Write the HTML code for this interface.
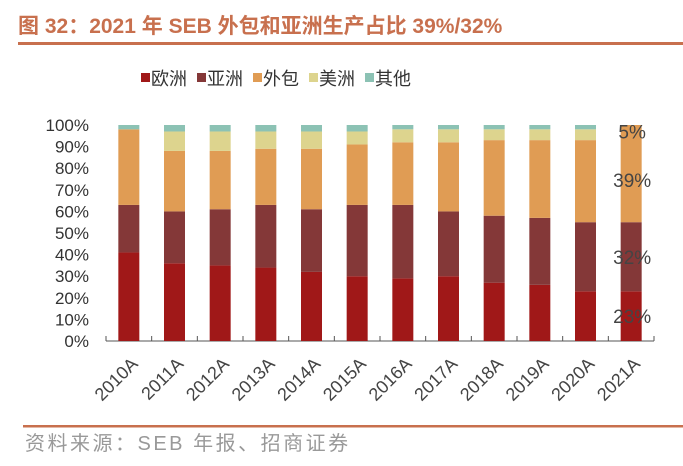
<!DOCTYPE html>
<html><head><meta charset="utf-8"><style>
body{margin:0;width:683px;height:461px;background:#fff;overflow:hidden;font-family:"Liberation Sans","Noto Sans CJK SC",sans-serif}
</style></head><body>
<svg width="683" height="461" xmlns="http://www.w3.org/2000/svg">
<text x="18" y="33" font-size="21" font-weight="bold" fill="#c8704e" font-family="Liberation Sans, Noto Sans CJK SC, sans-serif">图 32：2021 年 SEB 外包和亚洲生产占比 39%/32%</text>
<rect x="18" y="42" width="665" height="3" fill="#c8704e"/>
<g id="legend"></g>
<g id="axes"></g><g id="bars"></g>
<rect x="23" y="425" width="660" height="2.5" fill="#c8704e"/>
<text x="25" y="450" font-size="20" letter-spacing="2.5" fill="#999" font-family="Liberation Sans, Noto Sans CJK SC, sans-serif">资料来源：SEB 年报、招商证券</text>
</svg>
<script>
const categories=["2010A","2011A","2012A","2013A","2014A","2015A","2016A","2017A","2018A","2019A","2020A","2021A"];
const seriesNames=["欧洲","亚洲","外包","美洲","其他"];
const europe=[41,36,35,34,32,30,29,30,27,26,23,23];
const asia=[22,24,26,29,29,33,34,30,31,31,32,32];
const outsource=[35,28,27,26,28,28,29,32,35,36,38,45];
const america=[0,9,9,8,8,6,6,6,5,5,5,0];
const other=[2,3,3,3,3,3,2,2,2,2,2,0];
const yTicks=[0,10,20,30,40,50,60,70,80,90,100];
const labels2021=["23%","32%","39%","5%"];
const colors=["#a01818","#843838","#e09c54","#ddd48e","#8cc2b4"];
const NS="http://www.w3.org/2000/svg";
const x0=106,x1=654,y0=341,y1=125;
const step=(x1-x0)/categories.length,bw=21;
const yS=v=>y0-(y0-y1)*v/100;
const xC=i=>x0+step*(i+0.5);
function mk(t,a,p){const e=document.createElementNS(NS,t);for(const k in a)e.setAttribute(k,a[k]);p.appendChild(e);return e;}
const axes=document.getElementById('axes'),bars=document.getElementById('bars'),leg=document.getElementById('legend');
const F="Liberation Sans, Noto Sans CJK SC, sans-serif";
yTicks.forEach(v=>{const t=mk('text',{x:89,y:yS(v)+6,'text-anchor':'end','font-size':17,fill:'#333','font-family':F},axes);t.textContent=v+'%';

});
const ax=mk('line',{x1:x0,x2:x1,y1:y0,y2:y0,stroke:'#777','stroke-width':1.2},axes);


for(let i=0;i<=categories.length;i++){const tk=mk('line',{x1:x0+step*i,x2:x0+step*i,y1:y0-5,y2:y0,stroke:'#555'},axes);

}
const series=[europe,asia,outsource,america,other];
categories.forEach((c,i)=>{let acc=0;
series.forEach((s,k)=>{const v=s[i];if(v<=0)return;const r=mk('rect',{x:xC(i)-bw/2,y:yS(acc+v),width:bw,height:yS(acc)-yS(acc+v),fill:colors[k]},bars);

acc+=v;});
const tx=xC(i)+10,ty=y0+24;
const t=mk('text',{x:tx,y:ty,'text-anchor':'end','font-size':18,fill:'#444','font-family':F,transform:`rotate(-45 ${tx} ${ty})`},axes);t.textContent=c;

});
const li=categories.length-1;
const cum=[europe[li]/2,europe[li]+asia[li]/2,europe[li]+asia[li]+39/2,97];
labels2021.forEach((l,k)=>{const t=mk('text',{x:xC(li)+1,y:yS(cum[k])+7,'text-anchor':'middle','font-size':19,fill:'#444','font-family':F},bars);t.textContent=l;

});
let lx=141;
seriesNames.forEach((n,k)=>{const g=mk('g',{},leg);


mk('rect',{x:lx,y:73,width:9,height:9,fill:colors[k]},g);
const t=mk('text',{x:lx+10,y:85,'font-size':18,fill:'#333','font-family':F},g);t.textContent=n;lx+=56;});
</script>
</body></html>
